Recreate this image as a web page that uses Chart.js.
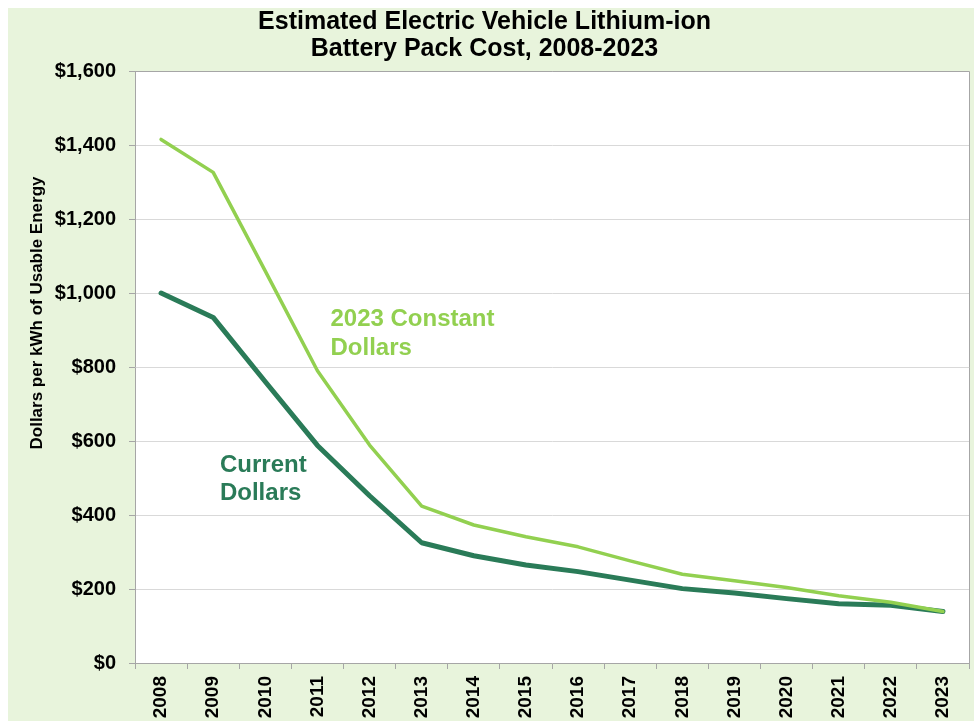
<!DOCTYPE html>
<html>
<head>
<meta charset="utf-8">
<title>Battery Pack Cost</title>
<script src="https://cdn.jsdelivr.net/npm/chart.js@4.4.1/dist/chart.umd.min.js"></script>
<style>
  body { margin: 0; background: #fff; }
  #wrap { width: 974px; height: 721px; }
</style>
</head>
<body>
<div id="wrap"><canvas id="canvas" width="974" height="721"></canvas></div>
<script>
// data
var years = ['2008','2009','2010','2011','2012','2013','2014','2015','2016','2017','2018','2019','2020','2021','2022','2023'];
var constantDollars = [1415, 1326, 1059, 790, 589, 424, 373, 341, 314, 276, 240, 222, 204, 182, 164, 139];
var currentDollars = [1000, 934, 760, 588, 452, 325, 290, 265, 247, 224, 201, 189, 174, 160, 156, 139];
var yTicks = [0, 200, 400, 600, 800, 1000, 1200, 1400, 1600];

var titleLines = ['Estimated Electric Vehicle Lithium-ion', 'Battery Pack Cost, 2008-2023'];
var yTitle = 'Dollars per kWh of Usable Energy';
var constantLabel = ['2023 Constant', 'Dollars'];
var currentLabel = ['Current', 'Dollars'];

var lightGreen = '#92d050';
var darkGreen = '#2a7b58';
var FONT = "'Liberation Sans', Arial, sans-serif";

// backgrounds, plot border, y title and in-plot labels
var decor = {
    id: 'decor',
    beforeDraw: function(chart) {
        var ctx = chart.ctx, a = chart.chartArea;
        ctx.save();
        ctx.fillStyle = '#ffffff';
        ctx.fillRect(0, 0, chart.width, chart.height);
        ctx.fillStyle = '#e8f4dc';
        ctx.fillRect(8, 8, chart.width - 8, chart.height - 8);
        ctx.fillStyle = '#ffffff';
        ctx.fillRect(a.left, a.top, a.right - a.left, a.bottom - a.top);
        ctx.restore();
    },
    beforeDatasetsDraw: function(chart) {
        var ctx = chart.ctx, a = chart.chartArea;
        ctx.save();
        ctx.strokeStyle = '#a6a6a6';
        ctx.lineWidth = 1;
        ctx.beginPath();
        ctx.moveTo(a.left, a.top + 0.5);
        ctx.lineTo(a.right + 0.5, a.top + 0.5);
        ctx.lineTo(a.right + 0.5, a.bottom);
        ctx.stroke();
        ctx.restore();
    },
    afterDraw: function(chart) {
        var ctx = chart.ctx;
        var x = chart.scales.x, y = chart.scales.y;
        ctx.save();
        // y axis title
        ctx.translate(37, 313);
        ctx.rotate(-Math.PI / 2);
        ctx.font = 'bold 17px ' + FONT;
        ctx.fillStyle = '#000';
        ctx.textAlign = 'center';
        ctx.textBaseline = 'middle';
        ctx.fillText(yTitle, 0, 0);
        ctx.restore();

        ctx.save();
        ctx.font = 'bold 24px ' + FONT;
        ctx.textAlign = 'left';
        ctx.textBaseline = 'middle';
        ctx.fillStyle = lightGreen;
        for (var i = 0; i < constantLabel.length; i++) {
            ctx.fillText(constantLabel[i], x.getPixelForValue(3.25), y.getPixelForValue(930) + i * 29);
        }
        ctx.fillStyle = darkGreen;
        for (var j = 0; j < currentLabel.length; j++) {
            ctx.fillText(currentLabel[j], x.getPixelForValue(1.13), y.getPixelForValue(535) + j * 28);
        }
        ctx.restore();
    }
};

var ctx = document.getElementById('canvas').getContext('2d');
var chart = new Chart(ctx, {
    type: 'line',
    data: {
        labels: years,
        datasets: [{
            label: '2023 Constant Dollars',
            data: constantDollars,
            borderColor: lightGreen,
            borderWidth: 3.5,
            pointRadius: 0,
            tension: 0,
            borderJoinStyle: 'round',
            borderCapStyle: 'round'
        }, {
            label: 'Current Dollars',
            data: currentDollars,
            borderColor: darkGreen,
            borderWidth: 5,
            pointRadius: 0,
            tension: 0,
            borderJoinStyle: 'round',
            borderCapStyle: 'round'
        }]
    },
    options: {
        responsive: false,
        animation: false,
        layout: { padding: { left: 0, right: 5, top: 0, bottom: 0 } },
        plugins: {
            legend: { display: false },
            tooltip: { enabled: false },
            title: {
                display: true,
                text: titleLines,
                color: '#000',
                font: { family: FONT, size: 25, weight: 'bold', lineHeight: 1.08 },
                padding: { top: 8.5, bottom: 8.5 }
            }
        },
        scales: {
            x: {
                offset: true,
                grid: { offset: true, drawOnChartArea: false, tickLength: 6, tickColor: '#a6a6a6' },
                border: { color: '#a6a6a6' },
                ticks: {
                    autoSkip: false,
                    minRotation: 90,
                    maxRotation: 90,
                    padding: 7,
                    color: '#000',
                    font: { family: FONT, size: 19, weight: 'bold' }
                },
                afterFit: function(scale) { scale.height = 58; }
            },
            y: {
                min: 0,
                max: 1600,
                afterBuildTicks: function(scale) {
                    scale.ticks = yTicks.map(function(v) { return { value: v }; });
                },
                grid: { color: '#d9d9d9', tickLength: 6, tickColor: '#a6a6a6' },
                border: { color: '#a6a6a6' },
                ticks: {
                    padding: 13,
                    color: '#000',
                    font: { family: FONT, size: 20, weight: 'bold' },
                    callback: function(v) { return '$' + Number(v).toLocaleString('en-US'); }
                },
                afterFit: function(scale) { scale.width = 135; }
            }
        }
    },
    plugins: [decor]
});
</script>
</body>
</html>
